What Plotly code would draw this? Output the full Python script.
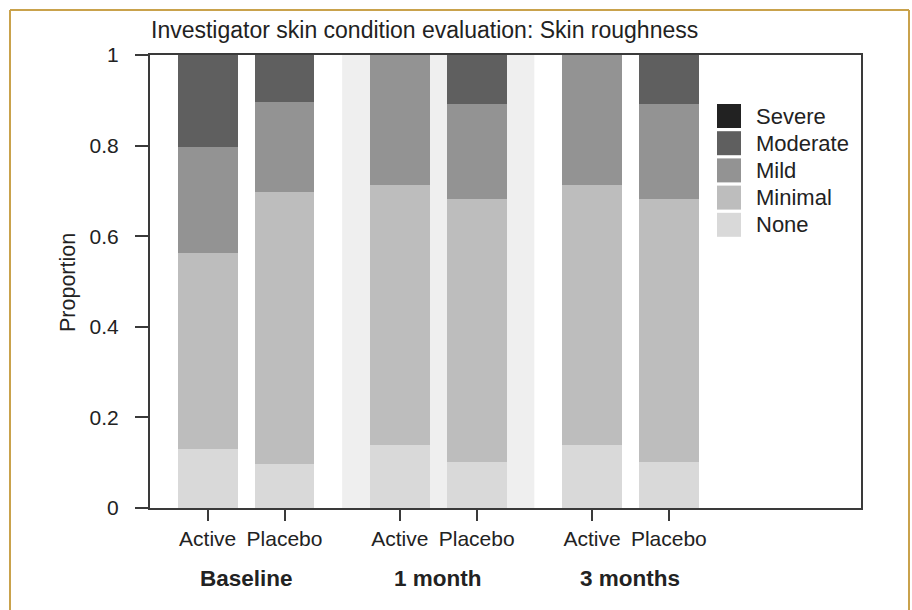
import plotly.graph_objects as go

# Groups / treatments
groups = ["Baseline", "1 month", "3 months"]
treatments = ["Active", "Placebo"]
bar_positions = [0, 1, 2.5, 3.5, 5, 6]
bar_labels = ["Active", "Placebo", "Active", "Placebo", "Active", "Placebo"]
group_centers = [0.5, 3.0, 5.5]

# Proportion of subjects in each severity category (per bar, left to right)
severity = ["None", "Minimal", "Mild", "Moderate", "Severe"]
none_vals = [0.130, 0.097, 0.138, 0.101, 0.138, 0.101]
minimal_vals = [0.432, 0.601, 0.574, 0.581, 0.574, 0.581]
mild_vals = [0.234, 0.199, 0.288, 0.210, 0.288, 0.210]
moderate_vals = [0.204, 0.103, 0.000, 0.108, 0.000, 0.108]
severe_vals = [0.000, 0.000, 0.000, 0.000, 0.000, 0.000]

yticks = [0, 0.2, 0.4, 0.6, 0.8, 1.0]
ytick_text = ["0", "0.2", "0.4", "0.6", "0.8", "1"]

colors = {
    "None": "#d9d9d9",
    "Minimal": "#bdbdbd",
    "Mild": "#939393",
    "Moderate": "#5f5f5f",
    "Severe": "#222222",
}

FONT = "Liberation Sans, Arial, Helvetica, sans-serif"
TXT = "#222222"
AX = "#3a3a3a"

series = {
    "None": none_vals,
    "Minimal": minimal_vals,
    "Mild": mild_vals,
    "Moderate": moderate_vals,
    "Severe": severe_vals,
}

fig = go.Figure()
for name in severity:
    fig.add_trace(go.Bar(
        x=bar_positions, y=series[name], name=name, width=0.78,
        marker=dict(color=colors[name], line=dict(width=0)),
        showlegend=False,
    ))

# plot geometry in pixels
W, H = 912, 610
L, R, T, B = 150, 51, 55, 102
pw, ph = W - L - R, H - T - B


def px_x(p):
    return (p - L) / pw


def px_y(p):
    return (H - B - p) / ph


shapes = []
# shaded band behind the middle group
shapes.append(dict(type="rect", xref="x", yref="y", x0=1.75, x1=4.25, y0=0, y1=1,
                   fillcolor="#efefef", line=dict(width=0), layer="below"))

# outer gold frame (left, top, right)
gold = "#c9a24c"
shapes.append(dict(type="line", xref="paper", yref="paper",
                   x0=px_x(10), x1=px_x(10), y0=px_y(10), y1=px_y(640),
                   line=dict(color=gold, width=2)))
shapes.append(dict(type="line", xref="paper", yref="paper",
                   x0=px_x(10), x1=px_x(909), y0=px_y(10), y1=px_y(10),
                   line=dict(color=gold, width=2)))
shapes.append(dict(type="line", xref="paper", yref="paper",
                   x0=px_x(909), x1=px_x(909), y0=px_y(10), y1=px_y(640),
                   line=dict(color=gold, width=2)))

annotations = []
# legend (top entry = most severe)
box_x0, box_x1 = 717, 741
row0, pitch = 116, 27.2
for i, name in enumerate(reversed(severity)):
    cy = row0 + i * pitch
    shapes.append(dict(type="rect", xref="paper", yref="paper",
                       x0=px_x(box_x0), x1=px_x(box_x1),
                       y0=px_y(cy + 12), y1=px_y(cy - 12),
                       fillcolor=colors[name], line=dict(width=0)))
    annotations.append(dict(text=name, xref="paper", yref="paper",
                            x=px_x(754), y=px_y(cy), xanchor="left", yanchor="middle",
                            showarrow=False, font=dict(family=FONT, size=22, color=TXT)))

# title
annotations.append(dict(text="Investigator skin condition evaluation: Skin roughness",
                        xref="paper", yref="paper", x=px_x(149), y=px_y(30),
                        xanchor="left", yanchor="middle", showarrow=False,
                        font=dict(family=FONT, size=23, color=TXT)))
# y-axis title
annotations.append(dict(text="Proportion", xref="paper", yref="paper",
                        x=px_x(68), y=px_y(283), textangle=-90,
                        xanchor="center", yanchor="middle", showarrow=False,
                        font=dict(family=FONT, size=21.5, color=TXT)))
# group labels
for g, c in zip(groups, group_centers):
    annotations.append(dict(text="<b>" + g + "</b>", xref="x", yref="paper",
                            x=c, y=px_y(578), xanchor="center", yanchor="middle",
                            showarrow=False, font=dict(family=FONT, size=22.5, color=TXT)))

fig.update_layout(
    width=W, height=H, autosize=False,
    margin=dict(l=L, r=R, t=T, b=B, pad=0),
    paper_bgcolor="white", plot_bgcolor="white",
    barmode="stack", bargap=0,
    shapes=shapes, annotations=annotations,
    xaxis=dict(range=[-0.75, 8.5], tickmode="array", tickvals=bar_positions,
               ticktext=bar_labels, ticks="outside", ticklen=11, tickwidth=2,
               tickcolor=AX, showline=True, linecolor=AX, linewidth=2, mirror=True,
               showgrid=False, zeroline=False,
               tickfont=dict(family=FONT, size=21, color=TXT)),
    yaxis=dict(range=[0, 1], tickmode="array", tickvals=yticks, ticktext=ytick_text,
               ticks="outside", ticklen=13, tickwidth=2, tickcolor=AX,
               showline=True, linecolor=AX, linewidth=2, mirror=True,
               showgrid=False, zeroline=False, ticklabelstandoff=12,
               tickfont=dict(family=FONT, size=21, color=TXT)),
)

fig.write_html("out.html")
